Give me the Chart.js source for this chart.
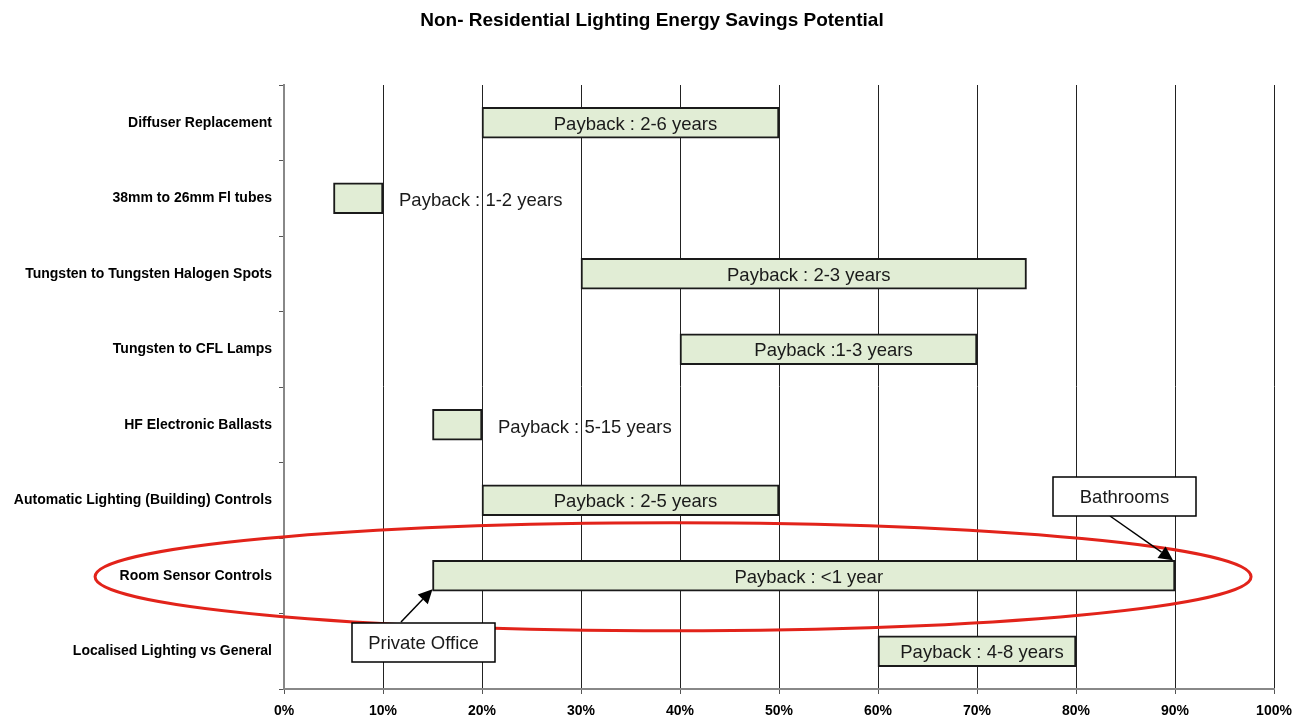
<!DOCTYPE html>
<html>
<head>
<meta charset="utf-8">
<script src="https://cdn.jsdelivr.net/npm/chart.js@4"></script>
<style>
  html, body { margin: 0; padding: 0; background: #fff; }
  #wrap { width: 1308px; height: 718px; position: relative; }
</style>
</head>
<body>
<div id="wrap"><canvas id="chart"></canvas></div>
<script>
// Measures and their saving range (percent)
const categories = [
  'Diffuser Replacement',
  '38mm to 26mm Fl tubes',
  'Tungsten to Tungsten Halogen Spots',
  'Tungsten to CFL Lamps',
  'HF Electronic Ballasts',
  'Automatic Lighting (Building) Controls',
  'Room Sensor Controls',
  'Localised Lighting vs General'
];
const savingLow = [20, 5, 30, 40, 15, 20, 15, 60];
const savingHigh = [50, 10, 75, 70, 20, 50, 90, 80];
const paybackLabels = [
  'Payback : 2-6 years',
  'Payback : 1-2 years',
  'Payback : 2-3 years',
  'Payback :1-3 years',
  'Payback : 5-15 years',
  'Payback : 2-5 years',
  'Payback : <1 year',
  'Payback : 4-8 years'
];
const xTicks = [0, 10, 20, 30, 40, 50, 60, 70, 80, 90, 100];

const FONT = '"Liberation Sans", Arial, sans-serif';

// Title, payback labels and the callout annotations
const overlayPlugin = {
  id: 'overlay',
  afterDatasetsDraw(chart) {
    const ctx = chart.ctx;
    const xs = chart.scales.x;
    const ys = chart.scales.y;
    const meta = chart.getDatasetMeta(0);

    ctx.save();
    // title
    ctx.fillStyle = '#000';
    ctx.font = 'bold 19px ' + FONT;
    ctx.textAlign = 'center';
    ctx.textBaseline = 'middle';
    ctx.fillText('Non- Residential Lighting Energy Savings Potential', 652, 21);

    // payback labels
    ctx.font = '18.5px ' + FONT;
    ctx.fillStyle = '#1a1a1a';
    meta.data.forEach((bar, i) => {
      const x0 = xs.getPixelForValue(savingLow[i]);
      const x1 = xs.getPixelForValue(savingHigh[i]);
      const w = ctx.measureText(paybackLabels[i]).width;
      if (w + 10 < x1 - x0) {
        ctx.textAlign = 'center';
        ctx.fillText(paybackLabels[i], (x0 + x1) / 2 + 5, bar.y + 2);
      } else {
        ctx.textAlign = 'left';
        ctx.fillText(paybackLabels[i], x1 + 16, bar.y + 3);
      }
    });

    // red ellipse around Room Sensor Controls
    const rowY = ys.getPixelForValue(6);
    ctx.beginPath();
    ctx.ellipse(xs.getPixelForValue(39.3), rowY + 1, 578, 54, 0, 0, Math.PI * 2);
    ctx.strokeStyle = '#e2231a';
    ctx.lineWidth = 3;
    ctx.stroke();

    function arrow(fx, fy, tx, ty) {
      const a = Math.atan2(ty - fy, tx - fx);
      const len = 14, hw = 7;
      ctx.beginPath();
      ctx.moveTo(fx, fy);
      ctx.lineTo(tx - Math.cos(a) * len, ty - Math.sin(a) * len);
      ctx.strokeStyle = '#000';
      ctx.lineWidth = 1.5;
      ctx.stroke();
      ctx.beginPath();
      ctx.moveTo(tx, ty);
      ctx.lineTo(tx - Math.cos(a) * len - Math.sin(a) * hw, ty - Math.sin(a) * len + Math.cos(a) * hw);
      ctx.lineTo(tx - Math.cos(a) * len + Math.sin(a) * hw, ty - Math.sin(a) * len - Math.cos(a) * hw);
      ctx.closePath();
      ctx.fillStyle = '#000';
      ctx.fill();
    }

    function box(x, y, w, h, text) {
      ctx.fillStyle = '#fff';
      ctx.fillRect(x, y, w, h);
      ctx.strokeStyle = '#000';
      ctx.lineWidth = 1.5;
      ctx.strokeRect(x, y, w, h);
      ctx.fillStyle = '#1a1a1a';
      ctx.font = '18.5px ' + FONT;
      ctx.textAlign = 'center';
      ctx.textBaseline = 'middle';
      ctx.fillText(text, x + w / 2, y + h / 2 + 1);
    }

    const bar = meta.data[6];
    const top = bar.y - bar.height / 2;
    const bottom = bar.y + bar.height / 2;
    // Bathrooms -> end of the bar
    arrow(1110, 516, xs.getPixelForValue(90) - 2, top);
    box(1053, 477, 143, 39, 'Bathrooms');
    // Private Office -> start of the bar
    arrow(401, 622, xs.getPixelForValue(15), bottom - 2);
    box(352, 623, 143, 39, 'Private Office');
    ctx.restore();
  }
};

new Chart(document.getElementById('chart'), {
  type: 'bar',
  data: {
    labels: categories,
    datasets: [{
      data: savingLow.map((v, i) => [v, savingHigh[i]]),
      backgroundColor: '#e1edd5',
      borderColor: '#1a1a1a',
      borderWidth: 2,
      borderSkipped: false,
      barThickness: 31
    }]
  },
  options: {
    indexAxis: 'y',
    responsive: true,
    maintainAspectRatio: false,
    animation: false,
    layout: { padding: { top: 85, right: 34, left: 0, bottom: 0 } },
    plugins: {
      legend: { display: false },
      title: { display: false },
      tooltip: { enabled: false }
    },
    scales: {
      x: {
        min: 0,
        max: 100,
        afterFit(scale) { scale.height = 29; },
        afterBuildTicks(scale) { scale.ticks = xTicks.map(v => ({ value: v })); },
        ticks: {
          callback: v => v + '%',
          color: '#000',
          font: { family: FONT, size: 14, weight: 'bold' },
          padding: 9,
          maxRotation: 0
        },
        grid: { color: '#222', lineWidth: 1, tickLength: 5, tickColor: '#555' },
        border: { color: '#888', width: 2 }
      },
      y: {
        afterFit(scale) { scale.width = 284; },
        ticks: {
          color: '#000',
          font: { family: FONT, size: 14, weight: 'bold' },
          padding: 7
        },
        grid: { drawOnChartArea: false, offset: true, tickLength: 5, color: '#555' },
        border: { color: '#888', width: 2 }
      }
    }
  },
  plugins: [overlayPlugin]
});
</script>
</body>
</html>
